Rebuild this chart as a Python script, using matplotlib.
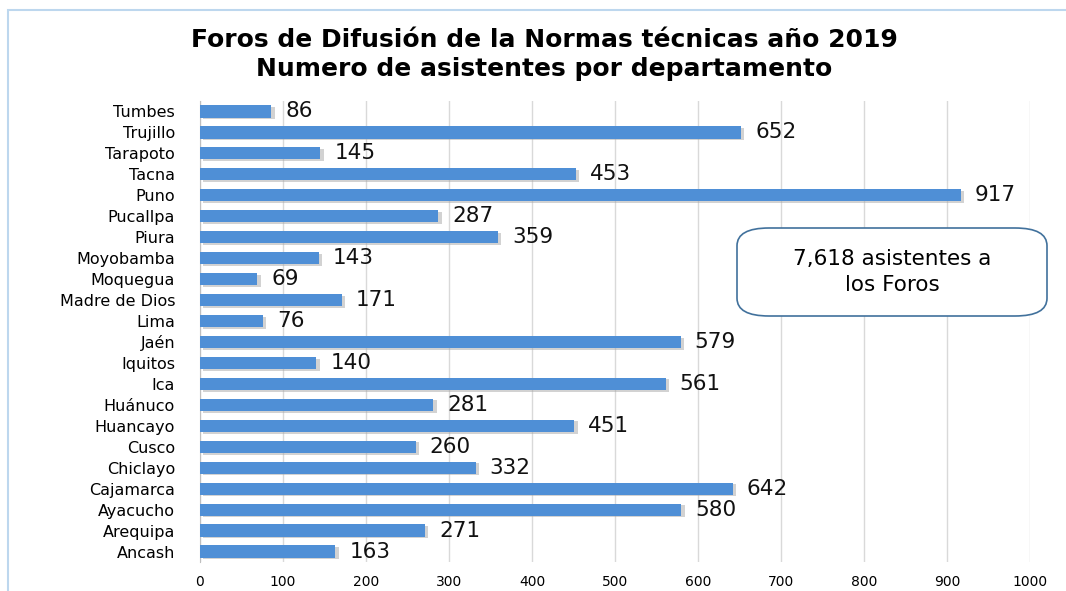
import matplotlib
matplotlib.use("Agg")
import matplotlib.pyplot as plt
from matplotlib.patches import FancyBboxPatch, Rectangle

departamentos = ["Tumbes", "Trujillo", "Tarapoto", "Tacna", "Puno", "Pucallpa", "Piura",
                 "Moyobamba", "Moquegua", "Madre de Dios", "Lima", "Jaén", "Iquitos", "Ica",
                 "Huánuco", "Huancayo", "Cusco", "Chiclayo", "Cajamarca", "Ayacucho",
                 "Arequipa", "Ancash"]
asistentes = [86, 652, 145, 453, 917, 287, 359, 143, 69, 171, 76, 579, 140, 561,
              281, 451, 260, 332, 642, 580, 271, 163]
xticks = [0, 100, 200, 300, 400, 500, 600, 700, 800, 900, 1000]

plt.rcParams['font.family'] = ['DejaVu Sans']

fig = plt.figure(figsize=(10.66, 5.91), dpi=100)
ax = fig.add_axes([200/1066, 1 - 562/591, 830/1066, 461/591])

# outer chart frame
fig.patches.append(Rectangle((8/1066, -0.1), 1.2, 1 - 10/591 + 0.1, transform=fig.transFigure,
                             fill=False, edgecolor='#bdd7ee', linewidth=1.5))

pos = list(range(len(departamentos)))
# soft shadow then bar
ax.barh([p + 0.08 for p in pos], asistentes, left=4, height=0.58, color='#a6a6a6', alpha=0.5, zorder=2)
ax.barh(pos, asistentes, height=0.58, color='#4f8fd6', zorder=3)

for p, v in zip(pos, asistentes):
    ax.annotate(str(v), (v, p), xytext=(14, 0), textcoords='offset pixels',
                ha='left', va='center', fontsize=15.5, color='#111111', clip_on=False)

ax.set_ylim(21.5, -0.5)
ax.set_xlim(0, 1000)
ax.set_xticks(xticks)
ax.set_yticks(pos)
ax.set_yticklabels(departamentos, fontsize=11.5)
ax.tick_params(axis='both', length=0)
ax.tick_params(axis='y', pad=18)
ax.tick_params(axis='x', labelsize=10, pad=9)
ax.grid(axis='x', color='#d9d9d9', linewidth=1, zorder=0)
ax.set_axisbelow(True)
for s in ['top', 'right', 'bottom']:
    ax.spines[s].set_visible(False)
ax.spines['left'].set_color('#bfbfbf')

fig.text(544/1066, 1 - 40/591, "Foros de Difusión de la Normas técnicas año 2019",
         ha='center', va='center', fontsize=18, fontweight='bold')
fig.text(544/1066, 1 - 69/591, "Numero de asistentes por departamento",
         ha='center', va='center', fontsize=18, fontweight='bold')

box = FancyBboxPatch((737/1066, 1 - 316/591), 310/1066, 88/591, transform=fig.transFigure,
                     boxstyle="round,pad=0,rounding_size=0.03", facecolor='white',
                     edgecolor='#41719c', linewidth=1.2, zorder=5)
fig.patches.append(box)
fig.text(892/1066, 1 - 272/591, "7,618 asistentes a\nlos Foros", ha='center', va='center',
         fontsize=15.5, linespacing=1.35, zorder=6)

fig.savefig("out.png", dpi=100)
